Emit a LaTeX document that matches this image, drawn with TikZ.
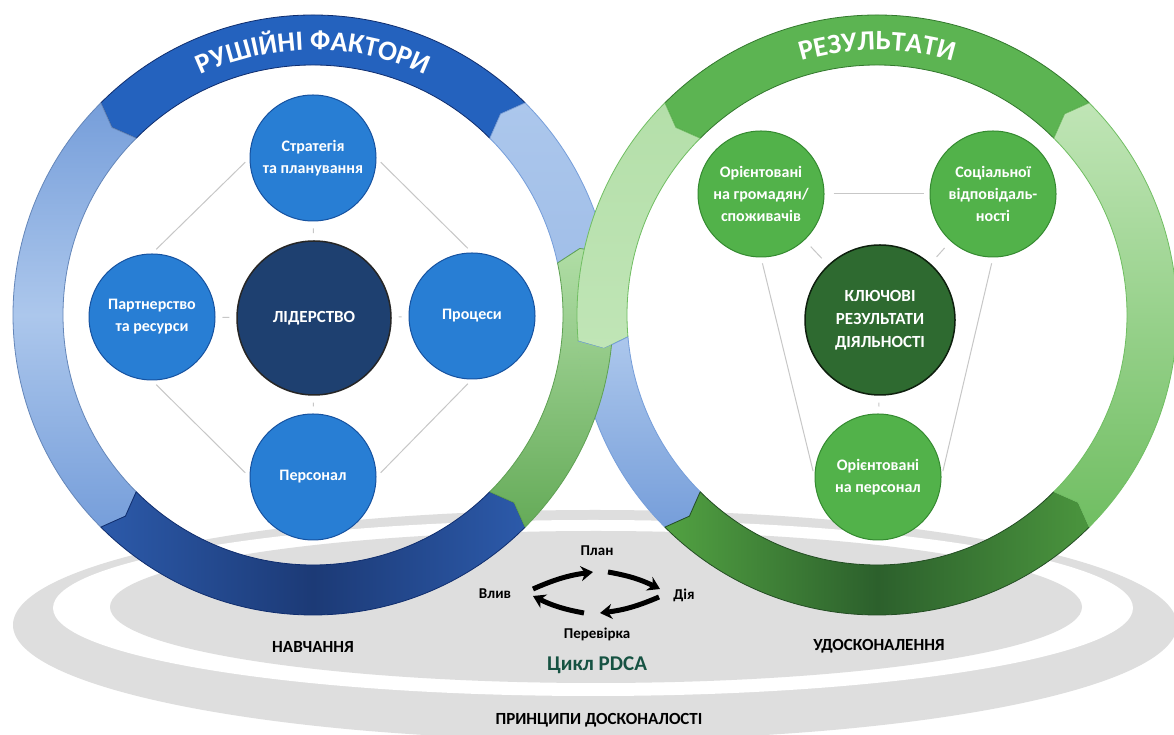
\documentclass[tikz,border=0pt]{standalone}
\usepackage{fontspec}
\setmainfont{Carlito}
\usetikzlibrary{calc,arrows.meta,decorations.text}

\definecolor{ringBlue}{RGB}{36,98,190}
\definecolor{ringBlueEdge}{RGB}{15,45,110}
\definecolor{paleBlueA}{RGB}{172,199,236}
\definecolor{paleBlueB}{RGB}{118,158,218}
\definecolor{navyEnd}{RGB}{44,90,170}
\definecolor{navyMid}{RGB}{28,58,118}
\definecolor{leafGreen}{RGB}{92,180,82}
\definecolor{leafEdge}{RGB}{50,120,45}
\definecolor{paleGreenA}{RGB}{192,229,182}
\definecolor{paleGreenB}{RGB}{112,190,98}
\definecolor{forestEnd}{RGB}{82,162,66}
\definecolor{forestMid}{RGB}{44,96,44}
\definecolor{nodeBlue}{RGB}{40,126,212}
\definecolor{nodeBlueEdge}{RGB}{22,82,160}
\definecolor{leadNavy}{RGB}{30,64,112}
\definecolor{nodeGreen}{RGB}{82,178,74}
\definecolor{nodeGreenEdge}{RGB}{52,138,48}
\definecolor{keyGreen}{RGB}{46,106,48}
\definecolor{plateGrey}{RGB}{222,222,222}
\definecolor{pdcaTeal}{RGB}{22,82,66}

% one piece of a ring: centre x, centre y, start angle, end angle, look
\newcommand{\ringpart}[5]{%
  \draw[shift={(#1,#2)}, line width=0.8pt, line join=round, #5]
    (#3:300) arc[start angle=#3, end angle=#4, radius=300]
    -- ({#4+2}:275) -- (#4:250)
    arc[start angle=#4, end angle=#3, radius=250]
    -- ({#3+2}:275) -- cycle;}

\tikzset{
  bluenode/.style={circle, draw=nodeBlueEdge, line width=1pt, fill=nodeBlue,
    minimum size=126pt, inner sep=0pt, text=white, align=center,
    font=\bfseries\fontsize{16}{22}\selectfont},
  greennode/.style={bluenode, draw=nodeGreenEdge, fill=nodeGreen},
  link/.style={draw=black!22, line width=1pt, shorten <=6pt, shorten >=6pt},
  stub/.style={link, shorten <=7pt, shorten >=7pt},
  platetext/.style={font=\bfseries\fontsize{17}{17}\selectfont},
  pdcatext/.style={font=\bfseries\fontsize{15}{15}\selectfont},
  pdcaarrow/.style={line width=5pt, black, -{Stealth[length=12pt, width=15pt]}},
  titletext/.style={decorate, decoration={text along path, text align=center,
    text={|\color{white}\bfseries\fontsize{28}{28}\selectfont|#1}}},
  leftgreen/.style={draw=paleGreenB!85!black, top color=paleGreenA!80!paleGreenB, bottom color=paleGreenB!90!black}
}

\begin{document}
\begin{tikzpicture}[x=1pt, y=1pt]
	\useasboundingbox (0,0) rectangle (1174,735);
	\fill[white] (0,0) rectangle (1174,735);

	%grey plates
	\fill[plateGrey] (595,110) ellipse[x radius=582, y radius=115];
	\fill[white]     (593,127) ellipse[x radius=540, y radius=88];
	\fill[plateGrey] (596,128) ellipse[x radius=486, y radius=76];

	%left ring
	\ringpart{313}{420}{45}{135}{fill=ringBlue, draw=ringBlueEdge}
	\ringpart{313}{420}{135}{225}{draw=paleBlueB!85!black, top color=paleBlueB, bottom color=paleBlueB, middle color=paleBlueA}
	\ringpart{313}{420}{225}{315}{draw=ringBlueEdge, left color=navyEnd, right color=navyEnd, middle color=navyMid}
	\ringpart{313}{420}{12}{45}{draw=paleBlueB, top color=paleBlueA, bottom color=paleBlueA!80!paleBlueB}
	\ringpart{313}{420}{-45}{12}{leftgreen}

	%right ring
	\ringpart{877}{420}{45}{135}{fill=leafGreen, draw=leafEdge}
	\ringpart{877}{420}{135}{185}{draw=paleGreenB, top color=paleGreenA!85!paleGreenB, bottom color=paleGreenA}
	\ringpart{877}{420}{185}{225}{draw=paleBlueB, top color=paleBlueA, bottom color=paleBlueB}
	\ringpart{877}{420}{225}{315}{draw=forestMid!80!black, left color=forestEnd, right color=forestEnd!80!forestMid, middle color=forestMid}
	\ringpart{877}{420}{-45}{45}{draw=paleGreenB, top color=paleGreenA, bottom color=paleGreenB}

	%green piece of the left ring passes over the blue piece of the right ring
	\begin{scope}
		\clip[shift={(877,420)}] (185:301) arc[start angle=185, end angle=225, radius=301]
			-- (227:275) -- (225:249) arc[start angle=225, end angle=185, radius=249]
			-- (187:275) -- cycle;
		\ringpart{313}{420}{-45}{12}{leftgreen}
	\end{scope}

	%titles on the rings
	\path[titletext={РУШІЙНІ ФАКТОРИ}] (313,420) ++(150:265) arc[start angle=150, end angle=30, radius=265];
	\path[titletext={РЕЗУЛЬТАТИ}] (877,420) ++(150:265) arc[start angle=150, end angle=30, radius=265];

	%drivers
	\node[bluenode] (strat)   at (313,577) {Стратегія\\та планування};
	\node[bluenode] (partner) at (152,418) {Партнерство\\та ресурси};
	\node[bluenode] (proc)    at (472,419) {Процеси};
	\node[bluenode] (pers)    at (313,258) {Персонал};
	\node[bluenode, fill=leadNavy, draw=black!85, line width=1.5pt, minimum size=154pt,
	      font=\bfseries\fontsize{17}{22}\selectfont] (lead) at (314,417) {ЛІДЕРСТВО};
	\draw[link] (strat.west)   -- (partner.north);
	\draw[link] (strat.east)   -- (proc.north);
	\draw[link] (partner.south)-- (pers.west);
	\draw[link] (proc.south)   -- (pers.east);
	\draw[stub] (lead) -- (strat);
	\draw[stub] (lead) -- (partner);
	\draw[stub] (lead) -- (proc);
	\draw[stub] (lead) -- (pers);

	%results
	\node[greennode] (gcitiz) at (761,541) {Орієнтовані\\на громадян/\\споживачів};
	\node[greennode] (gsoc)   at (993,541) {Соціальної\\відповідаль-\\ності};
	\node[greennode] (gpers)  at (878,258) {Орієнтовані\\на персонал};
	\node[greennode, fill=keyGreen, draw=black!70!keyGreen, line width=1.5pt, minimum size=150pt,
	      font=\bfseries\fontsize{17}{23}\selectfont] (gkey) at (880,415) {КЛЮЧОВІ\\РЕЗУЛЬТАТИ\\ДІЯЛЬНОСТІ};
	\draw[link, shorten <=9pt, shorten >=6pt] (gcitiz.east) -- (gsoc.west);
	\draw[link] (gcitiz.south) -- (gpers.west);
	\draw[link] (gsoc.south)   -- (gpers.east);
	\draw[stub, shorten <=9pt, shorten >=9pt] (gkey) -- (gcitiz);
	\draw[stub, shorten <=9pt, shorten >=9pt] (gkey) -- (gsoc);
	\draw[stub] (gkey) -- (gpers);

	%PDCA cycle
	\node[pdcatext] (plan)  at (597,184) {План};
	\node[pdcatext] (act)   at (495,141) {Влив};
	\node[pdcatext] (do)    at (684,140) {Дія};
	\node[pdcatext] (check) at (597,101) {Перевірка};
	\node[font=\bfseries\fontsize{21}{21}\selectfont, text=pdcaTeal] (cycle) at (597,70) {Цикл PDCA};
	\coordinate (ulA) at (533,146);  \coordinate (ulB) at (593,163);
	\coordinate (urA) at (608,163);  \coordinate (urB) at (660,146);
	\coordinate (lrA) at (659,138);  \coordinate (lrB) at (600,122);
	\coordinate (llA) at (584,122);  \coordinate (llB) at (533,139);
	\draw[pdcaarrow] (ulA) to[bend left=8]  (ulB);
	\draw[pdcaarrow] (urA) to[bend left=8]  (urB);
	\draw[pdcaarrow] (lrA) to[bend left=8]  (lrB);
	\draw[pdcaarrow] (llA) to[bend left=8]  (llB);

	%labels on the plates
	\node[platetext] (learn)   at (313,88) {НАВЧАННЯ};
	\node[platetext] (improve) at (879,89) {УДОСКОНАЛЕННЯ};
	\node[platetext] (princ)   at (599,15) {ПРИНЦИПИ ДОСКОНАЛОСТІ};
\end{tikzpicture}
\end{document}
